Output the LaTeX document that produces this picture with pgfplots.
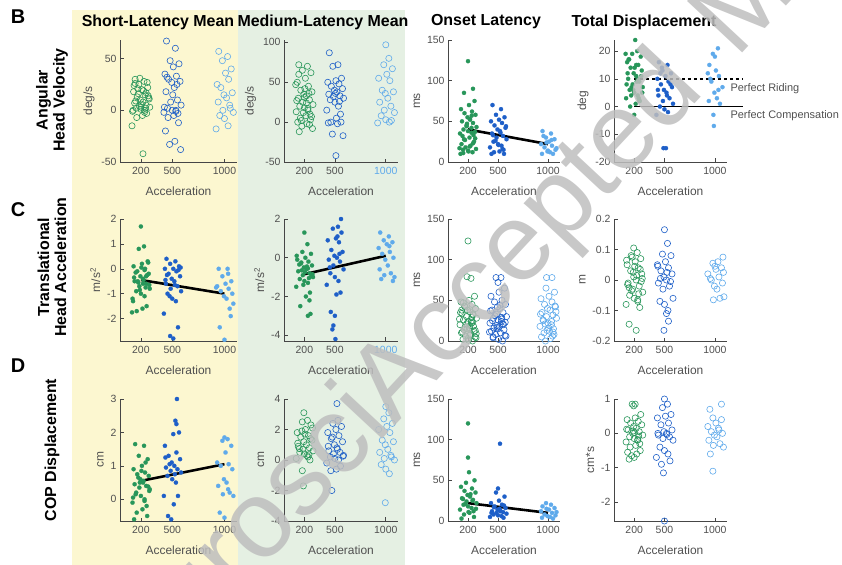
\documentclass[border=0pt]{standalone}
\usepackage{fontspec}
\setmainfont{Liberation Sans}
\usepackage{pgfplots}
\pgfplotsset{compat=1.18}
\definecolor{cg}{RGB}{40,150,90}
\definecolor{cb}{RGB}{30,95,200}
\definecolor{cl}{RGB}{95,170,235}
\definecolor{ybg}{RGB}{252,247,208}
\definecolor{gbg}{RGB}{229,240,227}
\definecolor{axc}{RGB}{70,70,70}
\definecolor{lblc}{RGB}{80,80,80}
\definecolor{wmc}{RGB}{190,190,190}
\pgfplotsset{
 panel/.style={scale only axis, anchor=north west, clip=false, axis lines=left,
  axis line style={-, draw=axc, line width=0.7pt},
  every tick/.style={draw=axc, line width=0.6pt}, major tick length=3.5bp, tick align=inside,
  xmin=0, xmax=1120, xtick={200,500,1000}, xlabel={Acceleration}, scaled y ticks=false,
  /pgf/number format/assume math mode=true, /pgf/number format/1000 sep={},
  tick label style={font=\fontsize{10.5}{12}\selectfont, text=lblc},
  xticklabel style={yshift=-2bp},
  xlabel style={font=\fontsize{12}{14}\selectfont, text=lblc, yshift=-5bp},
  ylabel style={font=\fontsize{12}{14}\selectfont, text=lblc},
  height=122bp},
 om/.style={only marks, mark=o, mark size=3.1bp, mark options={draw=#1, line width=0.6pt}},
 fm/.style={only marks, mark=*, mark size=2.1bp, mark options={draw=#1, fill=#1, line width=0.2pt}},
 fit/.style={black, line width=2.6pt},
}
\begin{document}
\begin{tikzpicture}
\path[use as bounding box] (0,0) rectangle (842bp,-565bp);
\fill[ybg] (72bp,-10bp) rectangle (238bp,-565bp);
\fill[gbg] (238bp,-10bp) rectangle (405bp,-565bp);
% labels
\node[font=\bfseries\fontsize{20}{22}\selectfont] at (18bp,-17bp) {B};
\node[font=\bfseries\fontsize{20}{22}\selectfont] at (18bp,-210bp) {C};
\node[font=\bfseries\fontsize{20}{22}\selectfont] at (18bp,-366bp) {D};
\node[font=\bfseries\fontsize{16}{17}\selectfont, rotate=90, align=center] at (52bp,-100bp) {Angular\\Head Velocity};
\node[font=\bfseries\fontsize{16}{17}\selectfont, rotate=90, align=center] at (52bp,-267bp) {Translational\\Head Acceleration};
\node[font=\bfseries\fontsize{16}{17}\selectfont, rotate=90] at (52bp,-450bp) {COP Displacement};
\node[font=\bfseries\fontsize{16}{17}\selectfont] at (158bp,-22bp) {Short-Latency Mean};
\node[font=\bfseries\fontsize{16}{17}\selectfont] at (323bp,-22bp) {Medium-Latency Mean};
\node[font=\bfseries\fontsize{16}{17}\selectfont] at (486bp,-22bp) {Onset Latency};
\node[font=\bfseries\fontsize{16}{17}\selectfont] at (644bp,-22bp) {Total Displacement};

% ===== Row B =====
\begin{axis}[panel, at={(120bp,-40bp)}, width=117bp, ymin=-50, ymax=68, ytick={-50,0,50}, ylabel={deg/s}]
\addplot[om=cg] coordinates {(145,30)(230,28)(180,25)(265,22)(210,20)(130,18)(240,15)(165,13)(275,12)(195,10)(220,8)(140,7)(250,5)(185,4)(285,3)(155,2)(200,1)(235,0)(120,-1)(255,-3)
(215,-5)(160,-7)(260,27)(135,24)(225,19)(175,16)(280,11)(150,9)(205,6)(245,2)(125,0)(235,-2)(190,31)(270,14)(170,21)(250,17)(115,-15)(220,-42)(145,26)(200,3)};
\addplot[om=cb] coordinates {(445,67)(530,60)(480,48)(565,45)(510,42)(430,35)(540,33)(465,30)(575,28)(495,27)(520,22)(440,18)(550,10)(485,8)(585,5)(455,2)(500,0)(535,0)(420,-2)(555,-3)
(515,-5)(460,-7)(560,-12)(435,-20)(525,-30)(475,-33)(580,-38)(450,32)(505,15)(545,25)(425,3)(535,-1)};
\addplot[om=cl] coordinates {(945,57)(1030,52)(980,48)(1065,40)(1010,36)(930,25)(1040,30)(965,22)(1075,17)(995,15)(1020,12)(940,8)(1050,5)(985,0)(1085,-2)(955,-5)(1000,-8)(1035,-15)(920,-18)(1055,2)};
\end{axis}
\begin{axis}[panel, at={(284bp,-40bp)}, width=114bp, ymin=-50, ymax=103, ytick={-50,0,50,100}, ylabel={deg/s}, xticklabels={200,500,\textcolor{cl}{1000}}]
\addplot[om=cg] coordinates {(145,72)(230,70)(180,65)(265,62)(210,55)(130,50)(240,45)(165,40)(275,38)(195,35)(220,33)(140,30)(250,28)(185,25)(285,22)(155,20)(200,18)(235,15)(120,13)(255,10)
(215,8)(160,5)(260,3)(135,0)(225,-2)(175,-5)(280,-8)(150,-12)(205,42)(245,36)(125,27)(235,17)(190,12)(270,7)(170,2)(250,-3)(115,47)(220,24)(145,60)(200,31)};
\addplot[om=cb] coordinates {(445,87)(530,72)(480,70)(565,55)(510,52)(430,50)(540,48)(465,45)(575,42)(495,40)(520,38)(440,35)(550,33)(485,32)(585,30)(455,28)(500,25)(535,20)(420,15)(555,10)
(515,5)(460,0)(560,0)(435,-1)(525,-2)(475,-15)(580,-17)(510,-42)(505,36)(545,26)};
\addplot[om=cl] coordinates {(1000,97)(1030,80)(980,72)(1065,67)(1010,60)(930,55)(1040,52)(965,40)(1075,38)(995,36)(1020,30)(940,25)(1050,20)(985,15)(1085,12)(955,8)(1000,3)(1035,0)(920,-1)(1055,2)};
\end{axis}
\begin{axis}[panel, at={(448bp,-40bp)}, width=112bp, ymin=0, ymax=150, ytick={0,50,100,150}, ylabel={ms}]
\addplot[fm=cg] coordinates {(200,124)(250,90)(160,85)(265,75)(210,70)(130,65)(240,62)(165,60)(275,58)(195,55)(220,52)(140,50)(250,48)(185,45)(285,43)(155,40)(200,38)(235,36)(120,35)(255,33)
(215,30)(160,28)(260,25)(135,22)(225,20)(175,18)(280,16)(150,15)(205,13)(245,12)(125,10)(235,42)(190,47)(270,37)(170,27)(250,23)(115,17)(220,53)(145,32)(200,14)
(152,11)(237,57)(187,44)(272,29)(217,19)};
\addplot[fm=cb] coordinates {(445,70)(530,65)(480,58)(565,55)(510,52)(430,50)(540,48)(465,45)(575,42)(495,40)(520,38)(440,35)(550,32)(485,30)(585,28)(455,25)(500,22)(535,20)(420,18)(555,15)
(515,13)(460,12)(560,10)(435,10)(525,36)(475,26)(580,44)(450,33)(505,21)(545,16)};
\addplot[fm=cl] coordinates {(945,38)(1030,35)(980,30)(1065,28)(1010,25)(930,22)(1040,20)(965,18)(1075,15)(995,13)(1020,12)(940,10)(1050,10)(985,24)(1085,17)(955,32)(1000,14)(1035,27)};
\addplot[fit] coordinates {(200,40)(1000,22)};
\end{axis}
\begin{axis}[panel, at={(614bp,-40bp)}, width=113bp, ymin=-20, ymax=24, ytick={-20,-10,0,10,20}, ylabel={deg}]
\addplot[fm=cg] coordinates {(210,24)(230,20)(180,19)(265,18)(145,17)(130,16)(240,15)(165,14)(275,13)(195,12)(220,11)(140,10)(250,9)(185,8)(285,7)(155,6)(200,5)(235,4)(120,3)(255,2)
(215,1)(160,0)(200,-3)(135,12)(225,9)(175,7)(280,5)(150,17)(205,14)(245,3)(125,8)(235,10)(190,6)(270,11)(170,4)(250,2)(115,19)(220,15)};
\addplot[fm=cb] coordinates {(445,16)(530,15)(480,13)(565,12)(510,11)(430,10)(540,9)(465,8)(575,7)(495,6)(520,5)(440,4)(550,3)(485,2)(585,1)(455,0)(500,-1)(535,-2)(420,-3)(490,-15)
(515,-15)(460,12)(560,8)(435,6)(525,4)(475,14)};
\addplot[fm=cl] coordinates {(1030,21)(980,19)(1000,18)(945,15)(1010,13)(930,12)(1040,11)(965,9)(1075,7)(995,5)(1020,3)(940,2)(1050,1)(985,-3)(990,-7)(955,10)(1035,6)};
\addplot[black, line width=1.8pt, dashed] coordinates {(200,10)(1280,10)};
\addplot[black, line width=1.8pt] coordinates {(200,0)(1280,0)};
\node[anchor=west, font=\fontsize{11}{12}\selectfont, text=lblc] at (axis cs:1120,6.4) {Perfect Riding};
\node[anchor=west, font=\fontsize{11}{12}\selectfont, text=lblc] at (axis cs:1120,-3.3) {Perfect Compensation};
\end{axis}

% ===== Row C =====
\begin{axis}[panel, at={(120bp,-219bp)}, width=117bp, ymin=-2.9, ymax=2, ytick={-2,-1,0,1,2}, ylabel={m/s\textsuperscript{2}}]
\addplot[fm=cg] coordinates {(200,1.7)(230,0.9)(180,0.8)(265,0.3)(210,0.2)(130,0.1)(240,0)(165,-0.1)(275,-0.2)(195,-0.3)(220,-0.4)(140,-0.5)(250,-0.6)(185,-0.7)(285,-0.8)(155,-0.9)(200,-1.0)(235,-1.1)(120,-1.2)(255,-1.5)
(215,-1.6)(160,-1.7)(260,-0.25)(135,-0.35)(225,-0.45)(175,-0.55)(280,-0.65)(150,-0.15)(205,0.05)(245,-0.75)(125,-1.3)(235,-0.05)(190,-0.85)(270,0.25)(170,-0.5)(250,-0.3)(115,-1.75)(220,-0.6)};
\addplot[fm=cb] coordinates {(445,0.4)(530,0.3)(480,0.2)(565,0.1)(510,0)(430,0)(540,-0.1)(465,-0.2)(575,-0.3)(495,-0.4)(520,-0.5)(440,-0.6)(550,-0.7)(485,-0.8)(585,-0.9)(455,-1.0)(500,-1.2)(535,-1.3)(420,-1.8)(555,-2.35)
(480,-2.7)(510,-2.8)(560,-0.05)(435,-0.45)(525,-0.65)(475,-1.1)(580,0.05)(450,-0.25)};
\addplot[fm=cl] coordinates {(945,0)(1030,0)(980,-0.3)(1065,-0.5)(1010,-0.6)(930,-0.7)(1040,-0.8)(965,-0.9)(1075,-1.0)(995,-1.1)(1020,-1.2)(1085,-1.4)(1050,-1.6)(1060,-1.9)(955,-2.35)(1000,-2.85)(1035,-0.2)(920,-0.75)};
\addplot[fit] coordinates {(200,-0.45)(1000,-1.0)};
\end{axis}
\begin{axis}[panel, at={(284bp,-219bp)}, width=114bp, ymin=-4.3, ymax=2, ytick={-4,-2,0,2}, ylabel={m/s\textsuperscript{2}}, xticklabels={200,500,\textcolor{cl}{1000}}]
\addplot[fm=cg] coordinates {(200,1.3)(230,0.7)(180,0.3)(265,0.2)(210,0)(130,-0.1)(240,-0.2)(165,-0.3)(275,-0.4)(195,-0.5)(220,-0.6)(140,-0.7)(250,-0.8)(185,-0.9)(285,-1.0)(155,-1.1)(200,-1.2)(235,-1.3)(120,-1.5)(255,-1.8)
(215,-2.0)(160,-2.5)(260,-2.9)(235,-3.0)(225,-0.45)(175,-0.65)(280,-0.85)(150,-0.35)(205,-0.75)(245,-1.05)(125,0.1)(235,-0.55)(190,-1.4)(270,-0.95)(170,-0.25)(250,-2.2)};
\addplot[fm=cb] coordinates {(560,2.0)(530,1.6)(480,1.5)(565,1.3)(510,1.0)(430,0.9)(540,0.8)(465,0.4)(575,0.3)(495,0.1)(520,0)(440,-0.1)(550,-0.2)(485,-0.4)(585,-0.6)(455,-0.8)(500,-1.0)(535,-1.2)(420,-1.4)(555,-1.8)
(515,-1.9)(460,-2.8)(500,-3.0)(485,-3.5)(475,-3.7)(505,-4.2)(545,0.2)(450,-0.5)(525,1.1)};
\addplot[fm=cl] coordinates {(945,1.3)(1030,1.1)(980,0.9)(1065,0.8)(1010,0.7)(930,0.5)(1040,0.3)(965,0.2)(1075,0)(995,-0.1)(1020,-0.4)(940,-0.6)(1050,-0.8)(985,-0.9)(1085,-1.0)(955,-1.1)(1070,-1.2)(1035,0.6)};
\addplot[fit] coordinates {(200,-0.85)(1000,0.1)};
\end{axis}
\begin{axis}[panel, at={(448bp,-219bp)}, width=112bp, ymin=0, ymax=150, ytick={0,50,100,150}, ylabel={ms}]
\addplot[om=cg] coordinates {(200,123)(190,79)(230,77)(265,55)(210,50)(130,48)(240,45)(165,43)(275,40)(195,38)(220,36)(140,34)(250,32)(185,30)(285,28)(155,26)(200,24)(235,22)(120,20)(255,18)
(215,16)(160,14)(260,12)(135,10)(225,8)(175,6)(280,4)(150,2)(205,1)(245,0)(125,35)(235,25)(190,15)(270,5)(170,42)(250,33)(115,27)(220,19)(145,11)(200,3)
(152,47)(237,29)(187,21)(272,13)(217,7)(137,38)(247,23)(172,17)(282,9)};
\addplot[om=cb] coordinates {(480,78)(530,78)(500,72)(565,65)(510,60)(430,55)(540,50)(465,48)(575,45)(495,42)(520,40)(440,38)(550,35)(485,33)(585,30)(455,28)(500,26)(535,24)(420,22)(555,20)
(515,18)(460,16)(560,14)(435,12)(525,10)(475,8)(580,6)(450,4)(505,2)(545,0)(425,37)(535,27)(490,17)(570,7)(470,31)(550,21)(415,11)(520,44)(445,25)(500,15)
(452,5)(537,29)(487,19)(572,23)};
\addplot[om=cl] coordinates {(985,78)(1040,78)(980,65)(1065,60)(1010,55)(930,52)(1040,48)(965,45)(1075,42)(995,40)(1020,38)(940,35)(1050,32)(985,30)(1085,28)(955,25)(1000,22)(1035,20)(920,18)(1055,15)
(1015,12)(960,10)(1060,8)(935,5)(1025,3)(975,0)(1080,36)(950,26)(1005,16)(1045,6)(925,33)(1035,24)(990,13)(1070,43)(970,21)(1050,11)};
\end{axis}
\begin{axis}[panel, at={(614bp,-219bp)}, width=113bp, ymin=-0.2, ymax=0.2, ytick={-0.2,-0.1,0,0.1,0.2}, ylabel={m}]
\addplot[om=cg] coordinates {(195,0.105)(230,0.09)(180,0.075)(265,0.07)(210,0.06)(130,0.05)(240,0.04)(165,0.03)(275,0.02)(195,0.01)(220,0)(140,-0.01)(250,-0.02)(185,-0.03)(285,-0.04)(155,-0.05)(200,-0.06)(235,-0.07)(120,-0.08)(255,-0.09)
(150,-0.145)(220,-0.165)(260,0.035)(135,-0.015)(225,0.015)(175,-0.035)(280,0.005)(150,-0.025)(205,0.045)(245,-0.045)(125,0.065)(235,-0.065)(190,0.025)(270,-0.005)(170,0.08)};
\addplot[om=cb] coordinates {(500,0.165)(530,0.12)(480,0.085)(565,0.08)(510,0.06)(430,0.05)(540,0.04)(465,0.03)(575,0.02)(495,0.01)(520,0)(440,-0.01)(550,-0.02)(485,-0.03)(585,-0.06)(455,-0.07)(500,-0.08)(535,-0.1)(520,-0.11)(540,-0.135)
(495,-0.165)(460,0.005)(560,-0.005)(435,0.045)(525,0.025)};
\addplot[om=cl] coordinates {(1080,0.075)(1030,0.06)(980,0.055)(1065,0.04)(1010,0.035)(930,0.02)(1040,0.01)(965,0)(1075,-0.01)(995,-0.02)(1020,-0.03)(1090,-0.055)(1050,-0.06)(985,-0.065)(1085,0.025)(955,0.005)(1000,0.045)};
\end{axis}

% ===== Row D =====
\begin{axis}[panel, at={(120bp,-399bp)}, width=117bp, ymin=-0.65, ymax=3, ytick={0,1,2,3}, ylabel={cm}]
\addplot[fm=cg] coordinates {(145,1.65)(230,1.6)(180,1.3)(265,1.2)(210,1.0)(130,0.9)(240,0.8)(165,0.75)(275,0.7)(195,0.6)(220,0.5)(140,0.45)(250,0.4)(185,0.35)(285,0.3)(155,0.2)(200,0.1)(235,0)(120,-0.1)(255,-0.2)
(215,-0.3)(160,-0.4)(260,-0.5)(135,-0.6)(225,0.55)(175,0.65)(280,0.25)(150,0.15)(205,0.85)(245,1.1)(125,0.05)(235,-0.05)(190,0.5)(270,0.38)};
\addplot[fm=cb] coordinates {(545,3.0)(530,2.35)(540,2.25)(565,2.0)(510,1.95)(430,1.6)(540,1.4)(465,1.3)(575,1.2)(495,1.1)(520,1.0)(440,0.95)(550,0.9)(485,0.85)(585,0.8)(455,0.7)(500,0.6)(535,0.5)(420,0.1)(555,0.1)
(515,-0.15)(460,-0.5)(490,-0.6)(435,1.25)(525,0.75)(475,1.05)};
\addplot[fm=cl] coordinates {(1000,1.85)(1030,1.8)(980,1.75)(1065,1.6)(1010,1.4)(930,1.1)(1040,1.05)(965,1.0)(1075,0.9)(995,0.6)(1020,0.5)(940,0.4)(1050,0.2)(985,0.15)(1085,0.1)(955,-0.4)(1000,-0.55)(1035,0.3)};
\addplot[fit] coordinates {(200,0.55)(1000,1.05)};
\end{axis}
\begin{axis}[panel, at={(284bp,-399bp)}, width=114bp, ymin=-4, ymax=4, ytick={-4,-2,0,2,4}, ylabel={cm}]
\addplot[om=cg] coordinates {(195,3.1)(230,2.6)(180,2.5)(265,2.3)(210,2.0)(130,1.8)(240,1.6)(165,1.5)(275,1.3)(195,1.2)(220,1.0)(140,0.9)(250,0.8)(185,0.7)(285,0.6)(155,0.5)(200,0.4)(235,0.2)(120,0.1)(255,0)
(180,-0.7)(190,-1.7)(260,1.4)(135,1.1)(225,0.3)(175,1.9)(280,2.1)(150,0.75)(205,1.7)(245,0.35)};
\addplot[om=cb] coordinates {(520,3.7)(530,2.6)(480,2.4)(565,2.2)(510,2.0)(430,1.8)(540,1.6)(465,1.4)(575,1.2)(495,1.0)(520,0.8)(440,0.6)(550,0.5)(485,0.4)(585,0.3)(455,0.2)(500,0.1)(535,0)(420,-0.2)(555,-0.4)
(515,-0.6)(460,-0.7)(470,-2.0)(435,0.9)(525,0.7)(475,1.5)(580,0.25)};
\addplot[om=cl] coordinates {(1000,3.5)(1030,3.1)(980,2.7)(1065,2.4)(1010,2.2)(930,2.0)(1040,1.8)(965,1.3)(1075,1.2)(995,1.0)(1020,0.7)(940,0.5)(1050,0.3)(985,0.1)(1085,0)(955,-0.3)(1000,-0.6)(1035,-0.9)(995,-2.8)(1055,0.2)};
\end{axis}
\begin{axis}[panel, at={(448bp,-399bp)}, width=112bp, ymin=0, ymax=150, ytick={0,50,100,150}, ylabel={ms}]
\addplot[fm=cg] coordinates {(200,120)(200,78)(210,60)(265,50)(180,47)(130,42)(240,40)(165,37)(275,35)(195,32)(220,30)(140,28)(250,26)(185,24)(285,22)(155,20)(200,18)(235,16)(120,14)(255,12)
(215,10)(160,8)(260,5)(135,3)(225,33)(175,21)(280,15)(150,27)(205,11)(245,25)};
\addplot[fm=cb] coordinates {(520,95)(500,40)(480,35)(565,30)(510,25)(430,22)(540,20)(465,18)(575,16)(495,14)(520,13)(440,12)(550,11)(485,10)(585,9)(455,8)(500,7)(535,6)(420,5)(555,4)
(515,15)(460,17)(560,19)(435,10)(525,12)};
\addplot[fm=cl] coordinates {(980,22)(1030,20)(945,18)(1065,16)(1010,14)(930,12)(1040,10)(965,8)(1075,7)(995,6)(1020,5)(940,4)(1050,3)(985,15)(1085,11)};
\addplot[fit] coordinates {(200,22)(1000,10)};
\end{axis}
\begin{axis}[panel, at={(614bp,-399bp)}, width=113bp, ymin=-2.55, ymax=1, ytick={-2,-1,0,1}, ylabel={cm*s}]
\addplot[om=cg] coordinates {(180,0.85)(210,0.85)(195,0.8)(265,0.55)(210,0.45)(130,0.4)(240,0.35)(165,0.3)(275,0.25)(195,0.2)(220,0.15)(140,0.1)(250,0.05)(185,0)(285,-0.05)(155,-0.1)(200,-0.15)(235,-0.2)(120,-0.25)(255,-0.3)
(215,-0.35)(160,-0.4)(260,-0.5)(135,-0.55)(225,-0.6)(175,-0.65)(200,-0.7)(150,-0.75)(205,0.02)(245,-0.08)(125,0.12)(235,-0.18)(190,0.07)};
\addplot[om=cb] coordinates {(500,1.0)(530,0.85)(480,0.75)(565,0.55)(510,0.5)(430,0.45)(540,0.3)(465,0.25)(575,0.1)(495,0.05)(520,0)(440,-0.05)(550,-0.1)(485,-0.15)(585,-0.2)(455,-0.4)(500,-0.5)(535,-0.6)(420,-0.7)(555,-0.8)
(470,-0.9)(490,-1.15)(500,-2.55)(435,0)(525,-0.03)};
\addplot[om=cl] coordinates {(1065,0.85)(950,0.7)(980,0.45)(1065,0.4)(1010,0.3)(930,0.2)(1040,0.1)(965,0.05)(1075,0)(995,-0.05)(1020,-0.1)(940,-0.2)(1050,-0.3)(985,-0.35)(1085,-0.4)(955,-0.6)(980,-1.1)(1035,0.15)};
\end{axis}

% watermark
\begin{scope}[every node/.style={rotate=47, text=wmc, opacity=0.85, font=\fontsize{110}{110}\selectfont, inner sep=0pt}]
\node[anchor=center] (acc) at (530bp,-240bp) {Accepted};
\node[anchor=base east] at (acc.base west) {JNeurosci\hspace{0.4em}};
\node[anchor=base west] at (acc.base east) {\hspace{0.4em}Manuscript};
\end{scope}
\end{tikzpicture}
\end{document}
